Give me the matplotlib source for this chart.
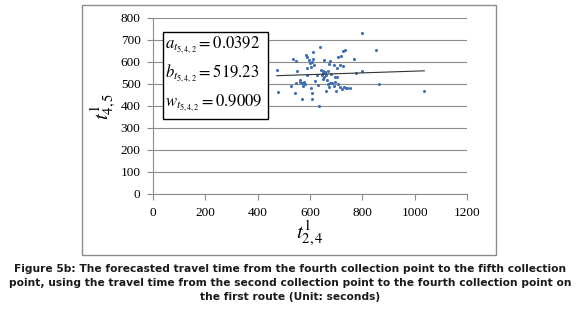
import numpy as np
import matplotlib.pyplot as plt
from matplotlib.patches import Rectangle

plt.rcParams['mathtext.fontset'] = 'stix'

# travel time 2->4 (x) and 4->5 (y)
t24 = [473, 479, 527, 534, 546, 543, 571, 552, 548, 562, 571, 578, 574, 580,
       585, 590, 596, 600, 610, 606, 603, 603, 607, 607, 613, 638, 636, 641,
       648, 650, 657, 645, 662, 650, 664, 674, 676, 670, 678, 673, 685, 690,
       697, 702, 692, 708, 720, 727, 714, 708, 714, 722, 731, 737, 695, 680,
       797, 854, 733, 768, 727, 797, 776, 865, 742, 751, 1037, 560, 590, 620,
       630, 655, 668, 700, 705, 588, 615, 625, 655, 660]
t45 = [564, 465, 493, 614, 603, 459, 430, 561, 506, 511, 503, 511, 491, 500,
       633, 624, 609, 594, 645, 602, 579, 480, 461, 432, 614, 670, 400, 564,
       557, 549, 556, 542, 540, 524, 518, 591, 603, 500, 506, 485, 505, 490,
       511, 571, 586, 624, 629, 651, 586, 500, 485, 477, 485, 482, 532, 545,
       733, 655, 653, 614, 580, 557, 549, 500, 480, 483, 470, 520, 540, 515,
       495, 530, 560, 470, 530, 575, 585, 540, 610, 470]

a_coef = 0.0392
b_coef = 519.23
w_coef = 0.9009

fig = plt.figure(figsize=(5.8, 3.14), dpi=100)
ax = fig.add_axes([153/580, 1 - 194/314, 314/580, 176/314])

ax.scatter(t24, t45, s=5, color='#3F6FB5', zorder=3, linewidths=0)
xl = np.array([min(t24), max(t24)])
ax.plot(xl, a_coef*xl + b_coef, color='#333333', lw=0.8, zorder=4)

ax.set_xlim(0, 1200)
ax.set_ylim(0, 800)
ax.set_xticks(range(0, 1201, 200))
ax.set_yticks(range(0, 801, 100))
ax.yaxis.grid(True, color='#8c8c8c', lw=0.8)
ax.set_axisbelow(True)
for s in ['top', 'right']:
    ax.spines[s].set_visible(False)
for s in ['left', 'bottom']:
    ax.spines[s].set_color('#8c8c8c')
ax.tick_params(length=4, color='#8c8c8c', labelsize=9.5, pad=5)
for lab in ax.get_xticklabels() + ax.get_yticklabels():
    lab.set_fontfamily('Liberation Serif')

ax.set_xlabel(r'$t^{1}_{2,4}$', fontsize=15, labelpad=0)
ax.set_ylabel(r'$t^{1}_{4,5}$', fontsize=15, labelpad=2)

# box with coefficients
fig.patches.append(Rectangle((163/580, 1 - 119/314), 105/580, 87/314,
                             transform=fig.transFigure, fill=True,
                             facecolor='white', edgecolor='black', lw=1.0))
sub = r'_{t_{5,4,2}}'
fig.text(165/580, 1 - 45/314, r'$a%s = %.4f$' % (sub, a_coef), fontsize=12, va='center')
fig.text(165/580, 1 - 74/314, r'$b%s = %.2f$' % (sub, b_coef), fontsize=12, va='center')
fig.text(165/580, 1 - 103/314, r'$w%s = %.4f$' % (sub, w_coef), fontsize=12, va='center')

# outer chart frame
fig.patches.append(Rectangle((82/580, 1 - 255/314), 414/580, 250/314,
                             transform=fig.transFigure, fill=False,
                             edgecolor='#8c8c8c', lw=1.0))

caption = ('Figure 5b: The forecasted travel time from the fourth collection point to the fifth collection\n'
           'point, using the travel time from the second collection point to the fourth collection point on\n'
           'the first route (Unit: seconds)')
fig.text(0.5, 1 - 283/314, caption, ha='center', va='center', fontsize=7.7,
         fontweight='bold', color='#1a1a1a', linespacing=1.5)

fig.savefig('out.png', dpi=100)
